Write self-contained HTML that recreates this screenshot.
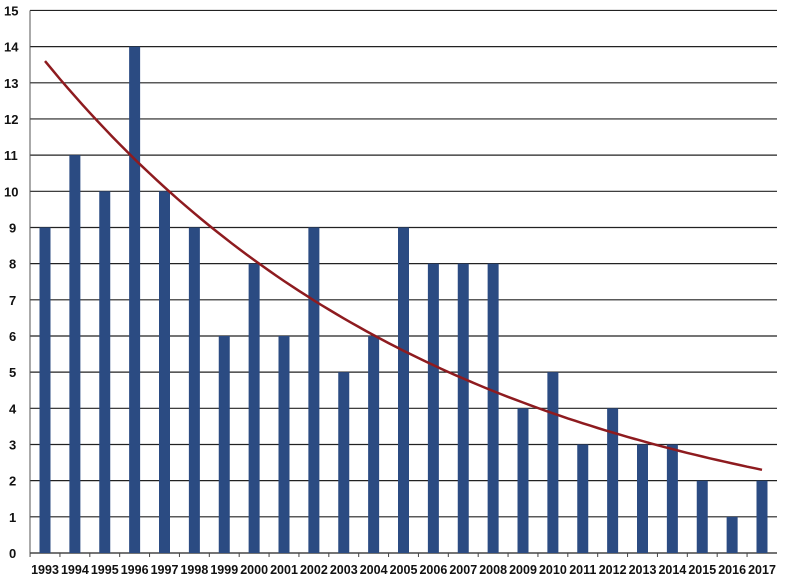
<!DOCTYPE html>
<html><head><meta charset="utf-8"><style>
html,body{margin:0;padding:0;background:#fff;}
svg{display:block;font-family:"Liberation Sans",Arial,sans-serif;}
</style></head><body>
<svg id="c" width="800" height="583" viewBox="0 0 800 583" xmlns="http://www.w3.org/2000/svg"></svg>
<script>
const s=document.getElementById('c');
const data=[9,11,10,14,10,9,6,8,6,9,5,6,9,8,8,8,4,5,3,4,3,3,2,1,2];
const y0=553,u=36.17,x0=45,dx=29.875,L=30,R=777;
let h='';
for(let v=0;v<=15;v++){const y=y0-v*u;
 h+=`<line x1="${L}" y1="${y}" x2="${R}" y2="${y}" stroke="#222" stroke-width="1.2"/>`;
 h+=`<text x="${v>=10?4:9}" y="${y+5}" font-size="13" font-weight="bold" fill="#111">${v}</text>`;}
h+=`<line x1="${L}" y1="${y0-15*u}" x2="${L}" y2="${y0}" stroke="#555" stroke-width="1"/>`;
data.forEach((v,i)=>{const cx=x0+i*dx;
 h+=`<rect x="${cx-5.5}" y="${y0-v*u}" width="11" height="${v*u}" fill="#2b4b82"/>`;
 h+=`<text x="${cx}" y="574" font-size="12.5" font-weight="bold" text-anchor="middle" fill="#111">${1993+i}</text>`;
 h+=`<line x1="${cx-dx/2}" y1="${y0}" x2="${cx-dx/2}" y2="${y0+4}" stroke="#444"/>`;});
let p='';for(let t=0;t<=24;t+=0.25){const v=13.6*Math.exp(-0.07404*t);p+=(t?'L':'M')+(x0+t*dx).toFixed(1)+','+(y0-v*u).toFixed(1);}
h+=`<path d="${p}" fill="none" stroke="#8e1b1f" stroke-width="2.5"/>`;
s.innerHTML=h;
</script>
</body></html>
